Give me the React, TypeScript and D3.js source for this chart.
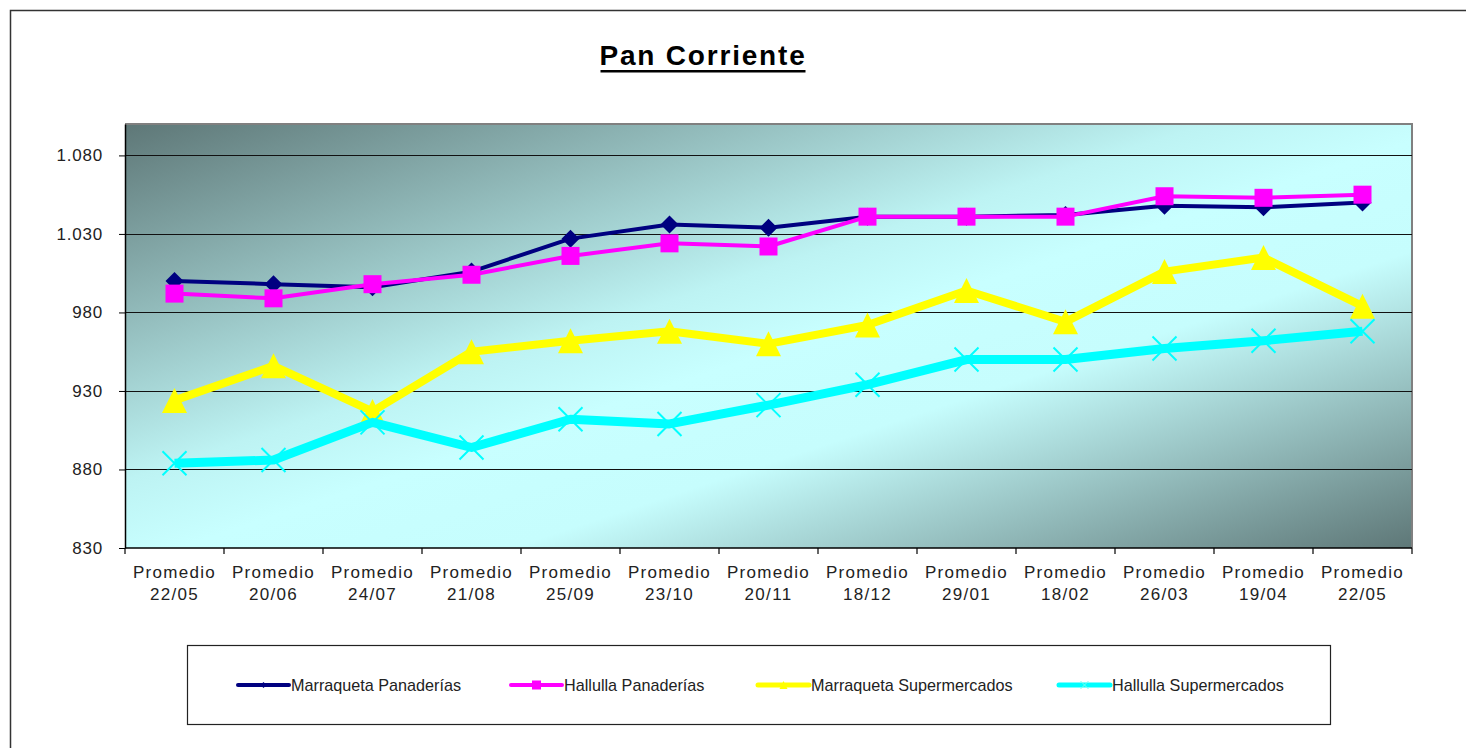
import { useEffect, useRef } from 'react';
import * as d3 from 'd3';

const categories = [
  'Promedio 22/05', 'Promedio 20/06', 'Promedio 24/07', 'Promedio 21/08', 'Promedio 25/09',
  'Promedio 23/10', 'Promedio 20/11', 'Promedio 18/12', 'Promedio 29/01', 'Promedio 18/02',
  'Promedio 26/03', 'Promedio 19/04', 'Promedio 22/05 ',
];

const marraquetaPanaderias = [1000, 998, 996, 1006, 1027, 1036, 1034, 1041, 1041, 1042, 1048, 1047, 1050];
const hallullaPanaderias = [992, 989, 998, 1004, 1016, 1024, 1022, 1041, 1041, 1041, 1054, 1053, 1055];
const marraquetaSupermercados = [924, 946, 917, 955, 962, 968, 960, 972, 994, 974, 1006, 1015, 984];
const hallullaSupermercados = [884, 886, 910, 894, 912, 909, 921, 934, 950, 950, 957, 962, 968];

const yTicks = [830, 880, 930, 980, 1030, 1080];

const series = [
  { name: 'Marraqueta Panaderías', values: marraquetaPanaderias, color: '#000080', width: 4, marker: 'diamond' },
  { name: 'Hallulla Panaderías', values: hallullaPanaderias, color: '#ff00ff', width: 4, marker: 'square' },
  { name: 'Marraqueta Supermercados', values: marraquetaSupermercados, color: '#ffff00', width: 8, marker: 'triangle' },
  { name: 'Hallulla Supermercados', values: hallullaSupermercados, color: '#00ffff', width: 9, marker: 'cross' },
];

// marker path centred on 0,0, s = half size
const markerPath = (type: string, s: number) => {
  if (type === 'diamond') return `M0,${-s}L${s},0L0,${s}L${-s},0Z`;
  if (type === 'square') return `M${-s},${-s}H${s}V${s}H${-s}Z`;
  if (type === 'triangle') return `M0,${-s}L${s},${s}L${-s},${s}Z`;
  return `M${-s},${-s}L${s},${s}M${s},${-s}L${-s},${s}`;
};
const markerSize: Record<string, number> = { diamond: 9, square: 9, triangle: 12.5, cross: 12 };
const legendMarkerSize: Record<string, number> = { diamond: 3, square: 4.5, triangle: 4, cross: 4 };

const App = () => {
  const svgRef = useRef<SVGSVGElement>(null);

  useEffect(() => {
    if (!svgRef.current) return;
    const W = 1466;
    const H = 748;
    const left = 125, right = 1412, top = 124, bottom = 548;

    const svg = d3.select(svgRef.current);
    svg.selectAll('*').remove();
    svg.attr('width', W).attr('height', H);

    const font = 'Arial, "Liberation Sans", sans-serif';
    const fmt = d3.formatLocale({ decimal: ',', thousands: '.', grouping: [3], currency: ['$', ''] }).format(',');

    const defs = svg.append('defs');
    const grad = defs.append('linearGradient').attr('id', 'plotBg')
      .attr('x1', 0).attr('y1', 0).attr('x2', 1).attr('y2', 1);
    [
      { o: 0, c: '#5e7777' },
      { o: 0.42, c: '#bdf3f3' },
      { o: 0.52, c: '#c8ffff' },
      { o: 0.65, c: '#c6fdfd' },
      { o: 1, c: '#5e7777' },
    ].forEach(s => grad.append('stop').attr('offset', s.o).attr('stop-color', s.c));

    svg.append('rect').attr('width', W).attr('height', H).attr('fill', '#fff');
    // outer chart frame
    svg.append('rect').attr('x', 10.5).attr('y', 10.5).attr('width', W + 20).attr('height', H + 20)
      .attr('fill', 'none').attr('stroke', '#333').attr('stroke-width', 1.5);

    // title
    const title = svg.append('text')
      .attr('x', 703).attr('y', 65).attr('text-anchor', 'middle')
      .style('font-family', font).style('font-size', '28px').style('font-weight', 'bold')
      .style('letter-spacing', '1.8px').attr('fill', '#000')
      .text('Pan Corriente');
    const tb = (title.node() as SVGTextElement).getBBox();
    svg.append('rect').attr('x', tb.x + 1).attr('y', 70).attr('width', tb.width - 2).attr('height', 2.5).attr('fill', '#000');

    const x = d3.scaleBand().domain(categories).range([left, right]);
    const y = d3.scaleLinear().domain([830, 1100]).range([bottom, top]);
    const cx = (i: number) => (x(categories[i]) as number) + x.bandwidth() / 2;

    // plot area
    svg.append('rect').attr('x', left).attr('y', top).attr('width', right - left).attr('height', bottom - top)
      .attr('fill', 'url(#plotBg)');
    svg.append('path')
      .attr('d', `M${left},${top}H${right}V${bottom}`)
      .attr('fill', 'none').attr('stroke', '#808080').attr('stroke-width', 2);

    // gridlines
    svg.append('g').selectAll('line').data(yTicks.filter(t => t !== 830)).enter().append('line')
      .attr('x1', left).attr('x2', right).attr('y1', d => Math.round(y(d)) + 0.5).attr('y2', d => Math.round(y(d)) + 0.5)
      .attr('stroke', '#111').attr('stroke-width', 1.2);

    // y axis
    const yAxis = svg.append('g').attr('transform', `translate(${left},0)`)
      .call(d3.axisLeft(y).tickValues(yTicks).tickSize(6).tickSizeOuter(0).tickPadding(16)
        .tickFormat(d => fmt(d as number)));
    yAxis.select('.domain').attr('stroke', '#000').attr('stroke-width', 1.5);
    yAxis.selectAll('.tick line').attr('stroke', '#000');
    yAxis.selectAll('.tick text').style('font-family', font).style('font-size', '17px')
      .style('letter-spacing', '0.8px').attr('fill', '#222');

    // x axis
    const xAxis = svg.append('g').attr('transform', `translate(0,${bottom})`);
    xAxis.append('line').attr('x1', left).attr('x2', right).attr('y1', 0).attr('y2', 0)
      .attr('stroke', '#000').attr('stroke-width', 1.5);
    const edges = categories.map(c => x(c) as number).concat([right]);
    xAxis.selectAll('line.tk').data(edges).enter().append('line').attr('class', 'tk')
      .attr('x1', d => d).attr('x2', d => d).attr('y1', 0).attr('y2', 6)
      .attr('stroke', '#000').attr('stroke-width', 1.2);
    categories.forEach((c, i) => {
      const parts = c.trim().split(' ');
      const t = xAxis.append('text').attr('text-anchor', 'middle')
        .style('font-family', font).style('font-size', '17px').style('letter-spacing', '1.3px').attr('fill', '#222');
      t.append('tspan').attr('x', cx(i)).attr('y', 30).text(parts[0]);
      t.append('tspan').attr('x', cx(i)).attr('y', 52).text(parts[1]);
    });

    // series
    series.forEach(s => {
      const line = d3.line<number>().x((_, i) => cx(i)).y(d => y(d));
      svg.append('path').datum(s.values).attr('d', line)
        .attr('fill', 'none').attr('stroke', s.color).attr('stroke-width', s.width)
        .attr('stroke-linejoin', 'round');
      const isCross = s.marker === 'cross';
      svg.append('g').selectAll('path').data(s.values).enter().append('path')
        .attr('transform', (d, i) => `translate(${cx(i)},${y(d)})`)
        .attr('d', markerPath(s.marker, markerSize[s.marker]))
        .attr('fill', isCross ? 'none' : s.color)
        .attr('stroke', isCross ? s.color : 'none')
        .attr('stroke-width', isCross ? 2 : 0);
    });

    // legend
    svg.append('rect').attr('x', 187.5).attr('y', 645.5).attr('width', 1143).attr('height', 79)
      .attr('fill', '#fff').attr('stroke', '#222').attr('stroke-width', 1.2);
    const legendX = [238, 511, 758, 1059];
    series.forEach((s, i) => {
      const lx = legendX[i];
      const ly = 685;
      const g = svg.append('g');
      g.append('line').attr('x1', lx).attr('x2', lx + 51).attr('y1', ly).attr('y2', ly)
        .attr('stroke', s.color).attr('stroke-width', s.width > 5 ? 5 : 4).attr('stroke-linecap', 'round');
      const isCross = s.marker === 'cross';
      g.append('path').attr('transform', `translate(${lx + 25.5},${ly})`)
        .attr('d', markerPath(s.marker, legendMarkerSize[s.marker]))
        .attr('fill', isCross ? 'none' : s.color)
        .attr('stroke', isCross ? '#7fe' : 'none').attr('stroke-width', 1);
      g.append('text').attr('x', lx + 53).attr('y', ly + 5.5)
        .style('font-family', font).style('font-size', '16.2px').attr('fill', '#222')
        .text(s.name);
    });
  }, []);

  return (
    <div style={{ position: 'absolute', left: 0, top: 0 }}>
      <svg ref={svgRef} style={{ display: 'block' }}></svg>
    </div>
  );
};

export default App;
